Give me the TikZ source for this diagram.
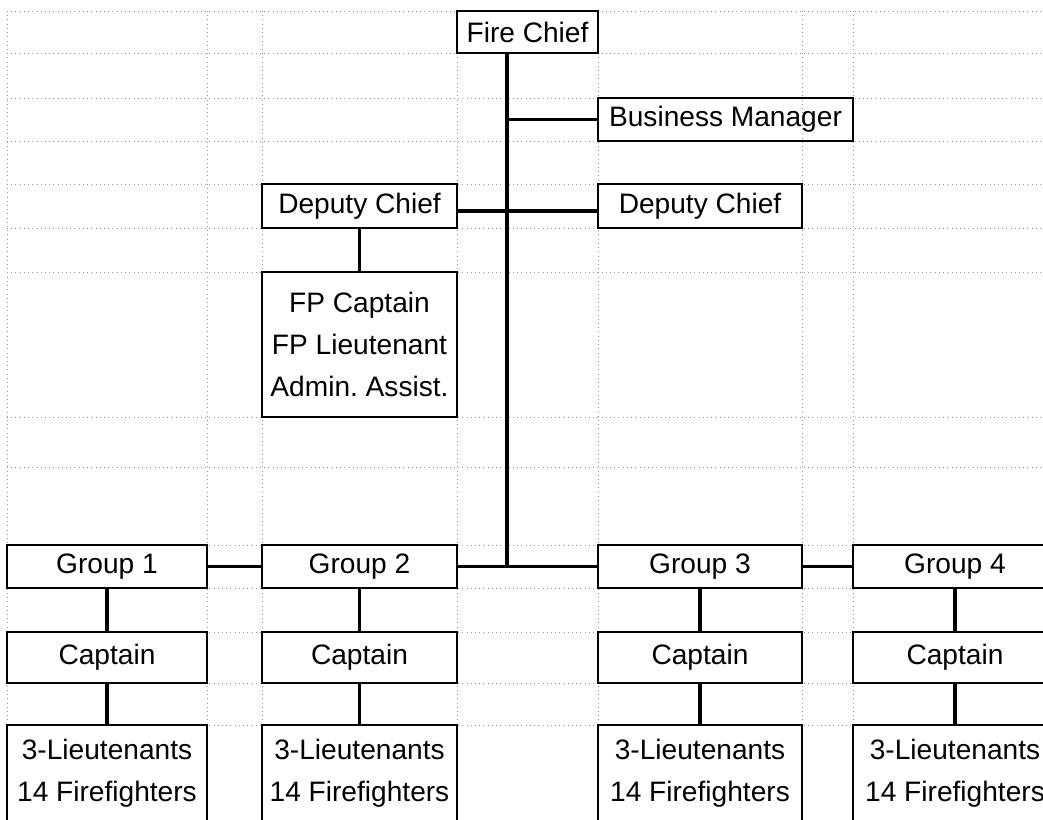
\documentclass[tikz,border=0pt]{standalone}
\usepackage{fontspec}
\setmainfont{Liberation Sans}
\frenchspacing

\begin{document}
\begin{tikzpicture}[x=0.02cm, y=-0.02cm,
        postbox/.style={
            rectangle,
            draw=black,
            line width=1pt,
            inner sep=0pt,
            align=center,
            font=\fontsize{16}{24}\selectfont
        },
        link/.style={
            line width=2pt
        },
        cellline/.style={
            draw=black!40,
            dotted,
            line width=0.4pt
        }
    ]
        \useasboundingbox (0,0) rectangle (1043,819);
        \clip (0,0) rectangle (1043,819);
        \fill[white] (0,0) rectangle (1043,819);
        \foreach \r in {11,53,98,141,184,228,272,417,467,545,588,632,683,725}
            \draw[cellline] (7,\r) -- (1043,\r);
        \foreach \c in {7,207,262,457,598,802,853}
            \draw[cellline] (\c,11) -- (\c,819);

        \node[postbox, minimum width=2.82cm, minimum height=0.84cm] (chief) at (527.5,32) {Fire Chief};
        \node[postbox, minimum width=5.1cm, minimum height=0.86cm] (manager) at (725.5,119.5) {Business Manager};
        \node[postbox, minimum width=4.08cm, minimum height=0.88cm] (deputyR) at (700,206) {Deputy Chief};
        \node[postbox, minimum width=3.9cm, minimum height=0.88cm] (deputyL) at (359.5,206) {Deputy Chief};
        \node[postbox, minimum width=3.9cm, minimum height=2.9cm] (prevention) at (359.5,344.5) {FP Captain\\FP Lieutenant\\Admin. Assist.};

        \foreach \i/\x/\w in {1/107/4.0, 2/359.5/3.9, 3/700/4.08, 4/955/4.08} {
            \node[postbox, minimum width=\w cm, minimum height=0.86cm] (g\i) at (\x,566.5) {Group \i};
            \node[postbox, minimum width=\w cm, minimum height=1.02cm] (cap\i) at (\x,657.5) {Captain};
            \node[postbox, minimum width=\w cm, minimum height=1.94cm] (lt\i) at (\x,773.5) {3-Lieutenants\\14 Firefighters};
            \draw[link] (g\i) -- (cap\i);
            \draw[link] (cap\i) -- (lt\i);
        }

        \coordinate (trunk) at ([xshift=-0.41cm]chief.south);
        \draw[link] (trunk) -- (trunk |- g2.east);
        \draw[link] (manager.west) -- (manager.west -| trunk);
        \draw[link] ([yshift=-0.1cm]deputyL.east) -- ([yshift=-0.1cm]deputyR.west);
        \draw[link] (deputyL) -- (prevention);
        \draw[link] (g1) -- (g2);
        \draw[link] (g2) -- (g3);
        \draw[link] (g3) -- (g4);
    \end{tikzpicture}
\end{document}
